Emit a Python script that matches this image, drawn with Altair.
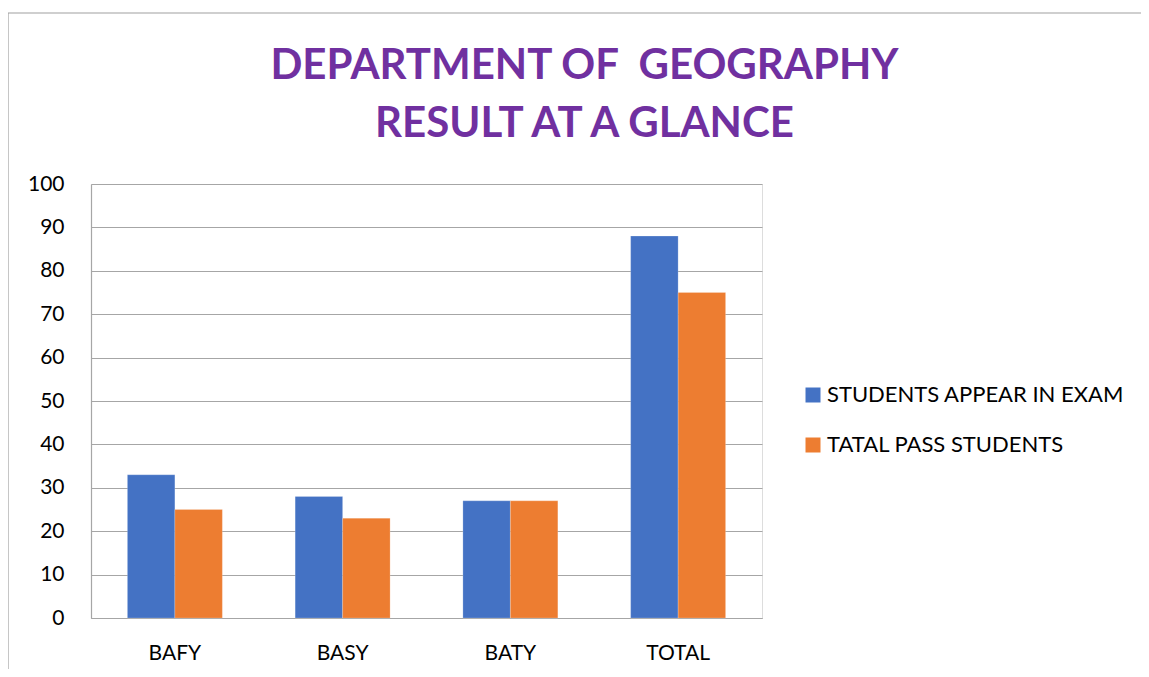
import altair as alt
import pandas as pd

categories = ["BAFY", "BASY", "BATY", "TOTAL"]
appear = [33, 28, 27, 88]
passed = [25, 23, 27, 75]
series = ["STUDENTS APPEAR IN EXAM", "TATAL PASS STUDENTS"]
colors = ["#4472C4", "#ED7D31"]
y_ticks = [0, 10, 20, 30, 40, 50, 60, 70, 80, 90, 100]
title_lines = ["DEPARTMENT OF\u00a0 GEOGRAPHY", "RESULT AT A GLANCE"]

rows = []
for c, a, p in zip(categories, appear, passed):
    rows.append({"cat": c, "series": series[0], "value": a})
    rows.append({"cat": c, "series": series[1], "value": p})
df = pd.DataFrame(rows)

FONT = "Lato"

bars = alt.Chart(df).mark_bar(stroke="white", strokeWidth=0.5, strokeOpacity=0.4).encode(
    x=alt.X("cat:N", sort=categories, title=None,
            scale=alt.Scale(paddingInner=0.434, paddingOuter=0.217),
            axis=alt.Axis(labelAngle=0, labelFontSize=21, labelFont=FONT, labelColor="#000000",
                          labelPadding=24, ticks=False, domainColor="#a6a6a6", domainWidth=1.2)),
    xOffset=alt.XOffset("series:N", sort=series, scale=alt.Scale(paddingInner=0, paddingOuter=0)),
    y=alt.Y("value:Q", title=None,
            scale=alt.Scale(domain=[0, 100], nice=False),
            axis=alt.Axis(values=y_ticks, labelFontSize=21, labelFont=FONT, labelColor="#000000",
                          labelPadding=27, ticks=False, gridColor="#a6a6a6", gridWidth=1.2,
                          domainColor="#a6a6a6", domainWidth=1.2)),
    color=alt.Color("series:N", sort=series,
                    scale=alt.Scale(domain=series, range=colors),
                    legend=alt.Legend(title=None, orient="none", legendX=711, legendY=200,
                                      symbolType="square", symbolSize=225, symbolStrokeWidth=0,
                                      labelFontSize=22, labelFont=FONT, labelColor="#000000",
                                      labelOffset=3, rowPadding=28, padding=0,
                                      labelLimit=400)),
)

frame_data = alt.Data(values=[{"k": 1}])
left_line = alt.Chart(frame_data).mark_rule(color="#a0a0a0", strokeWidth=1.2).encode(
    x=alt.value(-83), y=alt.value(-171), y2=alt.value(493))
top_line = alt.Chart(frame_data).mark_rule(color="#a0a0a0", strokeWidth=1.2).encode(
    x=alt.value(-83), x2=alt.value(1060), y=alt.value(-171))

title_data = alt.Data(values=[{"t": "\n".join(title_lines)}])
title = alt.Chart(title_data).mark_text(
    font=FONT, fontSize=42, fontWeight="bold", color="#7030A0",
    align="center", baseline="alphabetic", lineBreak="\n", lineHeight=58,
).encode(text="t:N", x=alt.value(493.5), y=alt.value(-105))

chart = alt.layer(left_line, top_line, title, bars).properties(
    width=671, height=434,
    autosize=alt.AutoSizeParams(type="none"),
    padding={"left": 83, "top": 176, "right": 379, "bottom": 51},
).configure_view(stroke=None).configure(background="white")

chart.save("out.html", embed_options={"renderer": "svg", "actions": False})
